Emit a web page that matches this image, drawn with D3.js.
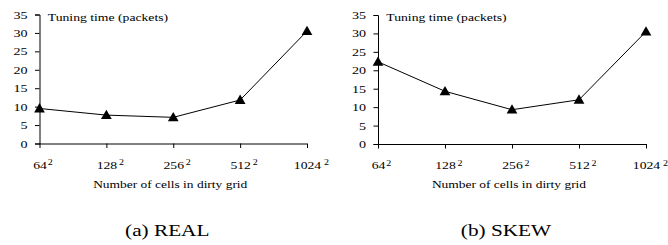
<!DOCTYPE html>
<html>
<head>
<meta charset="utf-8">
<script src="https://cdn.jsdelivr.net/npm/d3@7"></script>
<style>
  body { margin: 0; background: #fff; }
  svg text { font-family: "Liberation Serif", "Times New Roman", Times, serif; fill: #000; }
</style>
</head>
<body>
<svg id="chart" width="668" height="245"></svg>
<script>
// categories (cell counts, shown as base^2)
var cellBases = ["64", "128", "256", "512", "1024"];
var yTicks = [0, 5, 10, 15, 20, 25, 30, 35];

// tuning time per panel
var realTimes = [9.5, 7.7, 7.1, 11.8, 30.5];
var skewTimes = [22.3, 14.3, 9.3, 12.0, 30.5];

var panels = [
  { caption: "(a) REAL", values: realTimes, left: 39.5, right: 307, top: 14.5, bottom: 143.5 },
  { caption: "(b) SKEW", values: skewTimes, left: 378, right: 646, top: 15, bottom: 144 }
];

// the original figure was pasted stretched sideways, so the glyphs are wider than tall
var XS = 1.28;
var serif = "'Liberation Serif', 'Times New Roman', Times, serif";
var svg = d3.select("#chart");

function stretch(sel) {
  sel.each(function() {
    var w = this.getComputedTextLength();
    d3.select(this).attr("textLength", w * XS).attr("lengthAdjust", "spacingAndGlyphs");
  });
}

panels.forEach(function(p) {
  var x = d3.scalePoint().domain(cellBases).range([p.left, p.right]);
  var y = d3.scaleLinear().domain([0, 35]).range([p.bottom, p.top]);

  var g = svg.append("g");

  // y axis
  var yAxis = g.append("g")
    .attr("transform", "translate(" + p.left + ",0)")
    .call(d3.axisLeft(y).tickValues(yTicks).tickSize(4.5).tickPadding(7.5));
  yAxis.attr("font-family", serif).attr("font-size", 11);
  yAxis.selectAll(".tick text").call(stretch);

  // x axis, labels drawn as base + superscript 2
  var xAxis = g.append("g")
    .attr("transform", "translate(0," + p.bottom + ")")
    .call(d3.axisBottom(x).tickSize(4.5).tickFormat(""));
  xAxis.attr("font-family", serif);
  xAxis.select(".domain").attr("d", "M" + p.left + ",0.5H" + p.right);
  xAxis.selectAll(".tick text").remove();
  xAxis.selectAll(".tick").each(function(d) {
    var tk = d3.select(this);
    var base = tk.append("text")
      .attr("y", 25)
      .attr("text-anchor", "middle")
      .attr("font-size", 10.7)
      .text(d)
      .call(stretch);
    var half = base.node().getComputedTextLength() * XS / 2;
    tk.append("text")
      .attr("x", half + 1.5)
      .attr("y", 21.5)
      .attr("font-size", 7.8)
      .text("2")
      .call(stretch);
  });
  g.selectAll(".domain, .tick line").attr("stroke", "#000");

  g.append("text")
    .attr("x", p.left + 8.3)
    .attr("y", 21)
    .attr("font-family", serif)
    .attr("font-size", 10.7)
    .text("Tuning time (packets)")
    .call(stretch);

  g.append("text")
    .attr("x", (p.left + p.right) / 2 - 3)
    .attr("y", 188)
    .attr("text-anchor", "middle")
    .attr("font-family", serif)
    .attr("font-size", 10.5)
    .text("Number of cells in dirty grid")
    .call(stretch);

  g.append("text")
    .attr("x", (p.left + p.right) / 2 - 6)
    .attr("y", 236)
    .attr("text-anchor", "middle")
    .attr("font-family", serif)
    .attr("font-size", 16.6)
    .text(p.caption)
    .call(stretch);

  var line = d3.line()
    .x(function(d, i) { return x(cellBases[i]); })
    .y(function(d) { return y(d); });

  g.append("path")
    .datum(p.values)
    .attr("d", line)
    .attr("fill", "none")
    .attr("stroke", "#000")
    .attr("stroke-width", 1);

  g.selectAll(".pt")
    .data(p.values)
    .enter().append("path")
    .attr("class", "pt")
    .attr("d", d3.symbol().type(d3.symbolTriangle).size(50))
    .attr("transform", function(d, i) { return "translate(" + x(cellBases[i]) + "," + (y(d) + 0.8) + ")"; })
    .attr("fill", "#000");
});
</script>
</body>
</html>
